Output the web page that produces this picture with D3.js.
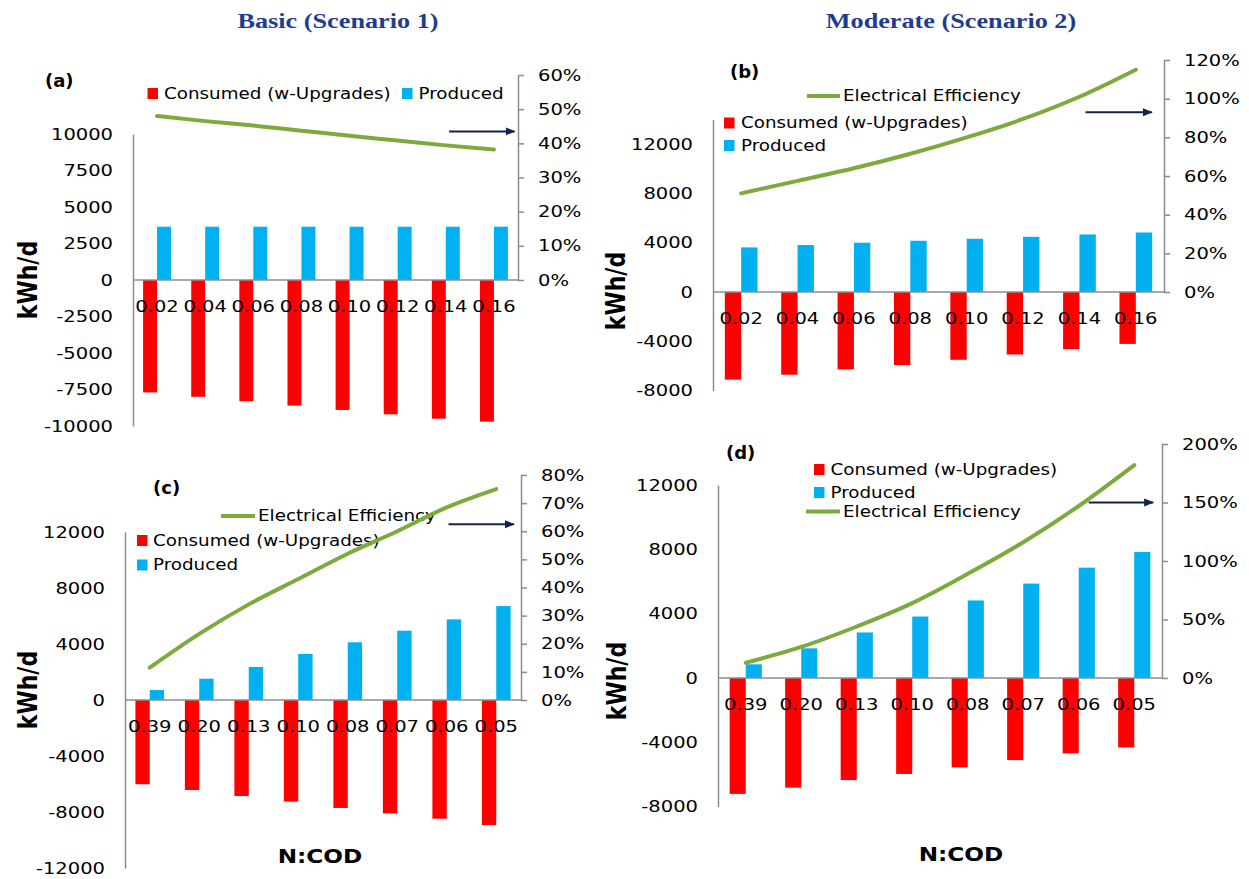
<!DOCTYPE html>
<html>
<head>
<meta charset="utf-8">
<script src="https://cdn.jsdelivr.net/npm/d3@7"></script>
<style>
  body { margin: 0; background: #fff; }
  svg { display: block; }
</style>
</head>
<body>
<svg id="chart" width="1249" height="879"></svg>
<script>
// ---- Categories (N:COD ratio) ----
const ratioCats = ["0.02", "0.04", "0.06", "0.08", "0.10", "0.12", "0.14", "0.16"];
const codCats   = ["0.39", "0.20", "0.13", "0.10", "0.08", "0.07", "0.06", "0.05"];

// ---- (a) Basic, scenario 1 ----
const consumedA = [-7700, -8000, -8300, -8600, -8900, -9200, -9500, -9700];
const producedA = [3650, 3650, 3650, 3650, 3650, 3650, 3650, 3650];
const effA      = [0.480, 0.465, 0.452, 0.437, 0.422, 0.408, 0.394, 0.382];

// ---- (b) Moderate, scenario 2 ----
const consumedB = [-7110, -6710, -6280, -5930, -5500, -5070, -4640, -4210];
const producedB = [3620, 3810, 4000, 4160, 4320, 4480, 4670, 4830];
const effB      = [0.51, 0.575, 0.64, 0.715, 0.80, 0.895, 1.01, 1.15];

// ---- (c) Basic, varying N:COD ----
const consumedC = [-6020, -6430, -6860, -7260, -7710, -8100, -8480, -8930];
const producedC = [710, 1520, 2360, 3290, 4120, 4950, 5760, 6710];
const effC      = [0.115, 0.235, 0.34, 0.43, 0.52, 0.60, 0.685, 0.75];

// ---- (d) Moderate, varying N:COD ----
const consumedD = [-7210, -6820, -6350, -5970, -5560, -5110, -4690, -4320];
const producedD = [850, 1840, 2830, 3820, 4820, 5870, 6860, 7830];
const effD      = [0.13, 0.265, 0.44, 0.64, 0.89, 1.16, 1.47, 1.82];

// ---- Axis tick values ----
const leftTicksA  = [-10000, -7500, -5000, -2500, 0, 2500, 5000, 7500, 10000];
const leftTicksB  = [-8000, -4000, 0, 4000, 8000, 12000];
const leftTicksC  = [-12000, -8000, -4000, 0, 4000, 8000, 12000];
const leftTicksD  = [-8000, -4000, 0, 4000, 8000, 12000];
const rightTicksA = [0, 0.1, 0.2, 0.3, 0.4, 0.5, 0.6];
const rightTicksB = [0, 0.2, 0.4, 0.6, 0.8, 1.0, 1.2];
const rightTicksC = [0, 0.1, 0.2, 0.3, 0.4, 0.5, 0.6, 0.7, 0.8];
const rightTicksD = [0, 0.5, 1.0, 1.5, 2.0];

// efficiency level each arrow points at on the right-hand axis
const arrowLevels = [0.435, 0.93, 0.625, 1.5];

// ---- Text ----
const titles = ["Basic (Scenario 1)", "Moderate (Scenario 2)"];
const panelTags = ["(a)", "(b)", "(c)", "(d)"];
const seriesNames = ["Consumed (w-Upgrades)", "Produced", "Electrical Efficiency"];
const yTitle = "kWh/d";
const xTitle = "N:COD";

// ---- Styling ----
const FONT = "'DejaVu Sans', sans-serif";
const SERIF = "'Liberation Serif', 'Times New Roman', serif";
const SX = 1.22;               // horizontal text stretch
const RED = "#FF0000", BLUE = "#00B0F0", GREEN = "#7DAA3C";
const AXIS = "#8C8C8C", NAVY = "#14214F";

// plain hyphen-minus for negative tick values
const intFmt = d => String(d);
const pctFmt = d => Math.round(d * 100) + "%";

const svg = d3.select("#chart");

svg.append("defs").append("marker")
  .attr("id", "arrowHead")
  .attr("markerUnits", "userSpaceOnUse")
  .attr("markerWidth", 12).attr("markerHeight", 12)
  .attr("refX", 9).attr("refY", 5)
  .attr("orient", "auto")
  .append("path").attr("d", "M0,1 L10,5 L0,9 Z").attr("fill", NAVY);

function label(g, x, y, str, o = {}) {
  const sx = o.sx || SX;
  return g.append("text")
    .attr("transform", `translate(${x},${y}) scale(${sx},1)` + (o.rotate ? ` rotate(${o.rotate})` : ""))
    .attr("text-anchor", o.anchor || "start")
    .attr("dy", o.dy || "0.36em")
    .style("font-family", o.family || FONT)
    .style("font-size", (o.size || 15) + "px")
    .style("font-weight", o.weight || "normal")
    .attr("fill", o.fill || "#000")
    .text(str);
}

function stretchTicks(axisG) {
  axisG.selectAll(".tick text").each(function () {
    const t = d3.select(this);
    t.attr("x", (+t.attr("x")) / SX).attr("transform", `scale(${SX},1)`);
  });
}

// Panel layouts: plot extents and legend placement
const panels = [
  {
    tag: panelTags[0], tagPos: [45, 81],
    cats: ratioCats, consumed: consumedA, produced: producedA, eff: effA,
    leftTicks: leftTicksA, leftDomain: [-10000, 10000], rightTicks: rightTicksA, rightMax: 0.6,
    x0: 133, x1: 518, yTop: 134, yBot: 426, rTop: 75,
    yTitlePos: [27, 280], xTitlePos: null,
    arrow: [0.821, 0.991], arrowLevel: arrowLevels[0],
    legend: [
      { kind: "sq", color: RED, x: 147.5, y: 93.5, text: seriesNames[0], tx: 164 },
      { kind: "sq", color: BLUE, x: 402, y: 93.5, text: seriesNames[1], tx: 418.5 }
    ]
  },
  {
    tag: panelTags[1], tagPos: [730, 72],
    cats: ratioCats, consumed: consumedB, produced: producedB, eff: effB,
    leftTicks: leftTicksB, leftDomain: [-8000, 14000], rightTicks: rightTicksB, rightMax: 1.2,
    x0: 713, x1: 1164, yTop: 119.5, yBot: 390.6, rTop: 60,
    yTitlePos: [615, 291], xTitlePos: null,
    arrow: [0.826, 0.973], arrowLevel: arrowLevels[1],
    legend: [
      { kind: "line", x: 807, y: 96, text: seriesNames[2], tx: 843 },
      { kind: "sq", color: RED, x: 724, y: 123, text: seriesNames[0], tx: 741 },
      { kind: "sq", color: BLUE, x: 724, y: 145.5, text: seriesNames[1], tx: 741 }
    ]
  },
  {
    tag: panelTags[2], tagPos: [153, 488],
    cats: codCats, consumed: consumedC, produced: producedC, eff: effC,
    leftTicks: leftTicksC, leftDomain: [-12000, 12000], rightTicks: rightTicksC, rightMax: 0.8,
    x0: 125, x1: 521, yTop: 532, yBot: 868, rTop: 475,
    yTitlePos: [27, 690], xTitlePos: [320, 856],
    arrow: [0.817, 0.982], arrowLevel: arrowLevels[2],
    legend: [
      { kind: "line", x: 221, y: 516, text: seriesNames[2], tx: 258 },
      { kind: "sq", color: RED, x: 137, y: 540.5, text: seriesNames[0], tx: 153 },
      { kind: "sq", color: BLUE, x: 137, y: 565, text: seriesNames[1], tx: 153 }
    ]
  },
  {
    tag: panelTags[3], tagPos: [726, 453],
    cats: codCats, consumed: consumedD, produced: producedD, eff: effD,
    leftTicks: leftTicksD, leftDomain: [-8000, 12000], rightTicks: rightTicksD, rightMax: 2.0,
    x0: 718, x1: 1162, yTop: 485, yBot: 806.6, rTop: 444,
    yTitlePos: [616, 681], xTitlePos: [961, 854],
    arrow: [0.835, 0.98], arrowLevel: arrowLevels[3],
    legend: [
      { kind: "sq", color: RED, x: 814, y: 469.5, text: seriesNames[0], tx: 830.5 },
      { kind: "sq", color: BLUE, x: 814, y: 492.5, text: seriesNames[1], tx: 830.5 },
      { kind: "line", x: 806, y: 511.5, text: seriesNames[2], tx: 843 }
    ]
  }
];

// Column titles
label(svg, 338, 20, titles[0], { anchor: "middle", family: SERIF, size: 21.5, weight: "bold", fill: "#1F3D8F" });
label(svg, 951, 20, titles[1], { anchor: "middle", family: SERIF, size: 21.5, weight: "bold", fill: "#1F3D8F" });

panels.forEach(p => {
  const g = svg.append("g");

  const yL = d3.scaleLinear().domain(p.leftDomain).range([p.yBot, p.yTop]);
  const zeroY = yL(0);
  const yR = d3.scaleLinear().domain([0, p.rightMax]).range([zeroY, p.rTop]);

  const x = d3.scaleBand().domain(p.cats).range([p.x0, p.x1])
    .paddingInner(0.42).paddingOuter(0.21);
  const xs = d3.scaleBand().domain(["consumed", "produced"]).range([0, x.bandwidth()]);

  // bars
  const rows = p.cats.map((c, i) => ({ cat: c, consumed: p.consumed[i], produced: p.produced[i] }));
  ["consumed", "produced"].forEach(key => {
    g.append("g").selectAll("rect").data(rows).join("rect")
      .attr("x", d => x(d.cat) + xs(key))
      .attr("width", xs.bandwidth())
      .attr("y", d => Math.min(yL(d[key]), zeroY))
      .attr("height", d => Math.abs(yL(d[key]) - zeroY))
      .attr("fill", key === "consumed" ? RED : BLUE);
  });

  // zero line
  g.append("line")
    .attr("x1", p.x0).attr("x2", p.x1)
    .attr("y1", zeroY).attr("y2", zeroY)
    .attr("stroke", AXIS).attr("stroke-width", 1.5);

  // left axis
  const la = g.append("g").attr("transform", `translate(${p.x0},0)`)
    .call(d3.axisLeft(yL).tickValues(p.leftTicks).tickSize(0).tickPadding(20).tickFormat(intFmt))
    .attr("font-family", FONT).attr("font-size", 16);
  la.select(".domain").attr("stroke", AXIS).attr("stroke-width", 1.5);
  la.selectAll(".tick text").attr("fill", "#000");
  stretchTicks(la);

  // right axis
  const ra = g.append("g").attr("transform", `translate(${p.x1},0)`)
    .call(d3.axisRight(yR).tickValues(p.rightTicks).tickSizeInner(6).tickSizeOuter(0)
      .tickPadding(14).tickFormat(pctFmt))
    .attr("font-family", FONT).attr("font-size", 16);
  ra.select(".domain").attr("stroke", AXIS).attr("stroke-width", 1.5);
  ra.selectAll(".tick line").attr("stroke", AXIS).attr("stroke-width", 1.5);
  ra.selectAll(".tick text").attr("fill", "#000");
  stretchTicks(ra);

  // category labels sit over the bars, just below the zero line
  p.cats.forEach(c => {
    label(g, x(c) + x.bandwidth() / 2, zeroY + 26, c, { anchor: "middle", size: 16 });
  });

  // legend
  p.legend.forEach(it => {
    if (it.kind === "sq") {
      g.append("rect").attr("x", it.x).attr("y", it.y - 5.5)
        .attr("width", 10.5).attr("height", 11).attr("fill", it.color);
    } else {
      g.append("line").attr("x1", it.x).attr("x2", it.tx - 3)
        .attr("y1", it.y).attr("y2", it.y)
        .attr("stroke", GREEN).attr("stroke-width", 4);
    }
    label(g, it.tx, it.y, it.text, { size: 15 });
  });

  // efficiency line
  const line = d3.line()
    .x((d, i) => x(p.cats[i]) + x.bandwidth() / 2)
    .y(d => yR(d))
    .curve(d3.curveMonotoneX);
  g.append("path").datum(p.eff)
    .attr("d", line)
    .attr("fill", "none").attr("stroke", GREEN)
    .attr("stroke-width", 4).attr("stroke-linecap", "round");

  // arrow pointing to the secondary axis
  const w = p.x1 - p.x0;
  g.append("line")
    .attr("x1", p.x0 + p.arrow[0] * w).attr("x2", p.x0 + p.arrow[1] * w)
    .attr("y1", yR(p.arrowLevel)).attr("y2", yR(p.arrowLevel))
    .attr("stroke", NAVY).attr("stroke-width", 2)
    .attr("marker-end", "url(#arrowHead)");

  // panel tag and axis titles
  label(g, p.tagPos[0], p.tagPos[1], p.tag, { size: 18, weight: "bold", sx: 1.0 });
  label(g, p.yTitlePos[0], p.yTitlePos[1], yTitle, { anchor: "middle", size: 22, weight: "bold", rotate: -90 });
  if (p.xTitlePos) {
    label(g, p.xTitlePos[0], p.xTitlePos[1], xTitle, { anchor: "middle", size: 19, weight: "bold" });
  }
});
</script>
</body>
</html>
